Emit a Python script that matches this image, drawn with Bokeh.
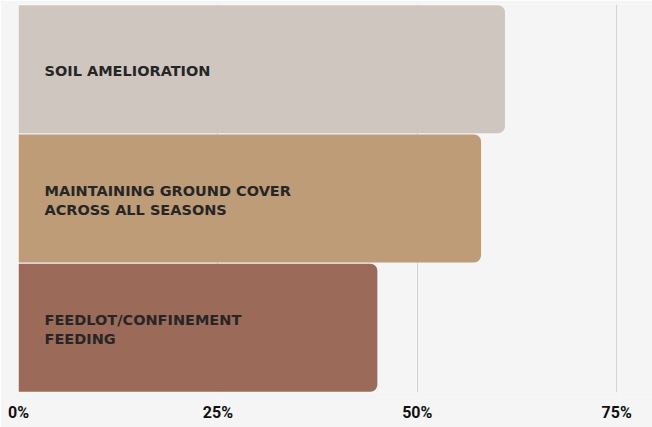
from bokeh.plotting import figure
from bokeh.models import ColumnDataSource, FactorRange, FixedTicker
from bokeh.core.properties import value
from bokeh.embed import file_html
from bokeh.resources import INLINE

categories = ["SOIL AMELIORATION", "MAINTAINING GROUND COVER ACROSS ALL SEASONS", "FEEDLOT/CONFINEMENT FEEDING"]
bar_labels = ["SOIL AMELIORATION", "MAINTAINING GROUND COVER\nACROSS ALL SEASONS", "FEEDLOT/CONFINEMENT\nFEEDING"]
values = [61, 58, 45]
colors = ["#cfc6c0", "#bd9c77", "#9c6a59"]
tick_values = [0, 25, 50, 75]
tick_labels = ["0%", "25%", "50%", "75%"]

src = ColumnDataSource(dict(cat=categories, val=values, col=colors, lab=bar_labels, zero=[0] * len(values)))

p = figure(width=652, height=427, output_backend="svg", toolbar_location=None,
           y_range=FactorRange(factors=categories[::-1], range_padding=0),
           x_range=(0, 79.5))
p.min_border_left = 18
p.min_border_right = 0
p.min_border_top = 4
p.min_border_bottom = 35
p.background_fill_color = "#f5f5f5"
p.border_fill_color = "#f5f5f5"
p.outline_line_color = None

p.hbar(y="cat", left="zero", right="val", height=0.99, fill_color="col", line_color=None,
       border_radius=(0, 7, 7, 0), source=src)
p.text(x="zero", y="cat", text="lab", source=src, x_offset=26, y_offset=2, text_baseline="middle",
       text_align="left", text_font=value("DejaVu Sans"), text_font_style="bold",
       text_font_size="14.5px", text_color="#262626", text_line_height=1.2)

p.yaxis.visible = False
p.ygrid.visible = False
p.xgrid.ticker = FixedTicker(ticks=tick_values)
p.xgrid.grid_line_color = "#d4d4d4"
p.xgrid.grid_line_width = 1

xa = p.xaxis[0]
xa.ticker = FixedTicker(ticks=tick_values)
xa.major_label_overrides = {v: l for v, l in zip(tick_values, tick_labels)}
xa.axis_line_color = None
xa.major_tick_line_color = None
xa.minor_tick_line_color = None
xa.major_tick_out = 0
xa.major_tick_in = 0
xa.major_label_standoff = 10
xa.major_label_text_font = "Roboto"
xa.major_label_text_font_style = "bold"
xa.major_label_text_font_size = "16px"
xa.major_label_text_color = "#111111"

open("out.html", "w").write(file_html(p, INLINE))
